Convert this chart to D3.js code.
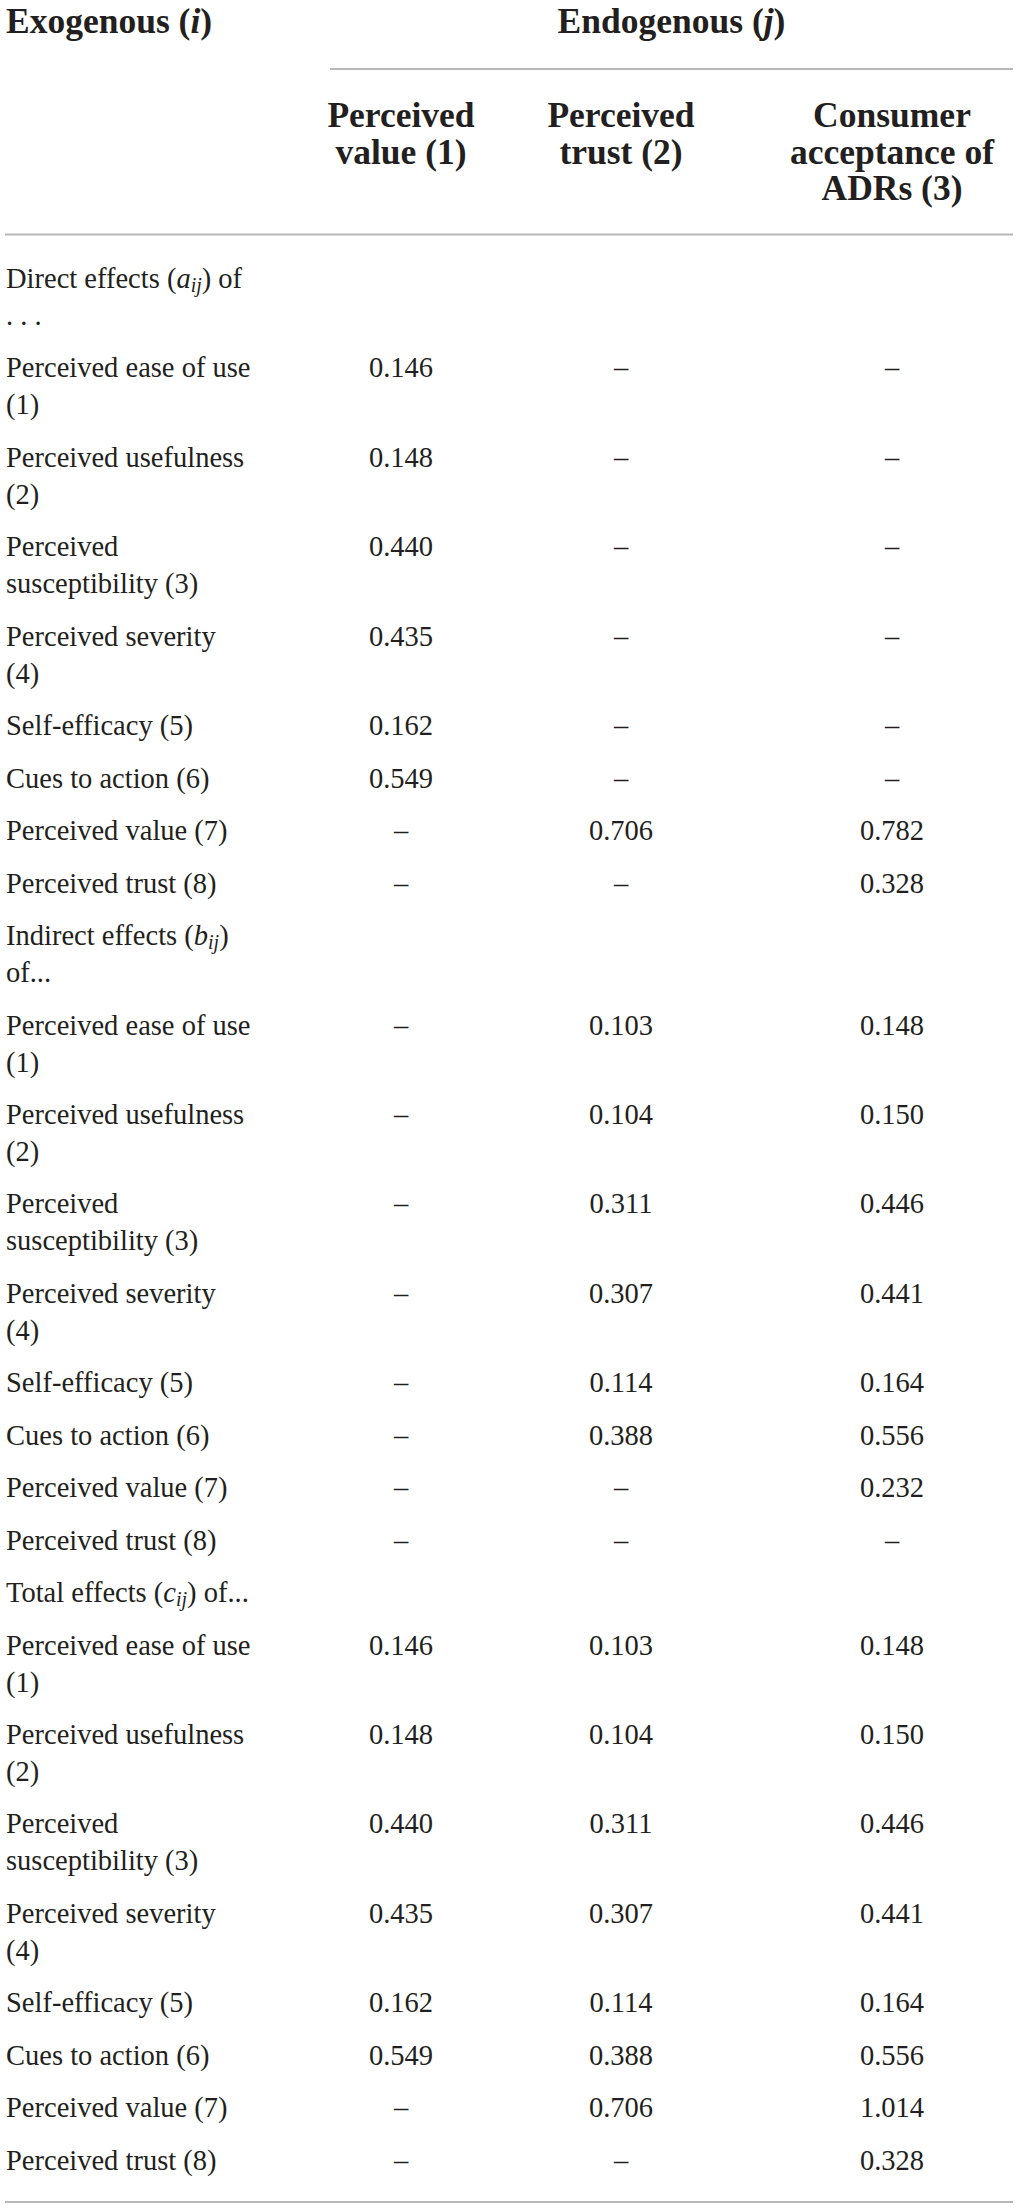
<!DOCTYPE html>
<html>
<head>
<meta charset="utf-8">
<script src="https://cdn.jsdelivr.net/npm/d3@7"></script>
<style>
  html, body { margin: 0; padding: 0; background: #ffffff; }
  svg { display: block; }
  text { font-family: "Liberation Serif", "Times New Roman", serif; fill: #231f20; }
</style>
</head>
<body>
<div id="chart"></div>
<script>
// ---------- DATA ----------
const stubHeader = [{t: "Exogenous ("}, {t: "i", it: true}, {t: ")"}];
const spanHeader = [{t: "Endogenous ("}, {t: "j", it: true}, {t: ")"}];
const columnKeys = ["PV", "PT", "CA"];
const columnHeaders = [
  ["Perceived", "value (1)"],
  ["Perceived", "trust (2)"],
  ["Consumer", "acceptance of", "ADRs (3)"]
];
const rowLabels = [
  ["Perceived ease of use", "(1)"],
  ["Perceived usefulness", "(2)"],
  ["Perceived", "susceptibility (3)"],
  ["Perceived severity", "(4)"],
  ["Self-efficacy (5)"],
  ["Cues to action (6)"],
  ["Perceived value (7)"],
  ["Perceived trust (8)"]
];
const directTitle = [
  [{t: "Direct effects ("}, {t: "a", it: true}, {t: "ij", it: true, sub: true}, {t: ") of"}],
  [{t: ". . ."}]
];
const indirectTitle = [
  [{t: "Indirect effects ("}, {t: "b", it: true}, {t: "ij", it: true, sub: true}, {t: ")"}],
  [{t: "of..."}]
];
const totalTitle = [
  [{t: "Total effects ("}, {t: "c", it: true}, {t: "ij", it: true, sub: true}, {t: ") of..."}]
];
const directPV   = [0.146, 0.148, 0.440, 0.435, 0.162, 0.549, null, null];
const directPT   = [null, null, null, null, null, null, 0.706, null];
const directCA   = [null, null, null, null, null, null, 0.782, 0.328];
const indirectPV = [null, null, null, null, null, null, null, null];
const indirectPT = [0.103, 0.104, 0.311, 0.307, 0.114, 0.388, null, null];
const indirectCA = [0.148, 0.150, 0.446, 0.441, 0.164, 0.556, 0.232, null];
const totalPV    = [0.146, 0.148, 0.440, 0.435, 0.162, 0.549, null, null];
const totalPT    = [0.103, 0.104, 0.311, 0.307, 0.114, 0.388, 0.706, null];
const totalCA    = [0.148, 0.150, 0.446, 0.441, 0.164, 0.556, 1.014, 0.328];

// ---------- BUILD TABLE ROWS ----------
const sections = [
  {title: directTitle,   vals: {PV: directPV, PT: directPT, CA: directCA}},
  {title: indirectTitle, vals: {PV: indirectPV, PT: indirectPT, CA: indirectCA}},
  {title: totalTitle,    vals: {PV: totalPV, PT: totalPT, CA: totalCA}}
];
const rows = [];
sections.forEach(s => {
  rows.push({lines: s.title, cells: null});
  rowLabels.forEach((lab, i) => {
    rows.push({
      lines: lab.map(l => [{t: l}]),
      cells: columnKeys.map(k => s.vals[k][i])
    });
  });
});

// ---------- LAYOUT ----------
const W = 1017, H = 2209;
const bodySize = 28.5, headSize = 35.5;
const lineH = 37, rowPad = 15.45;
const firstBaseline = 288;
const leftX = 6, rightX = 1013, spanLeft = 330;

const x = d3.scaleOrdinal().domain(columnKeys).range([401, 621, 892]);
const fmt = d3.format(".3f");

// cumulative y positions
let cursor = firstBaseline;
rows.forEach(r => {
  r.y = cursor;
  cursor += r.lines.length * lineH + rowPad;
});

const svg = d3.select("#chart").append("svg")
  .attr("width", W).attr("height", H)
  .attr("viewBox", `0 0 ${W} ${H}`);

function addRich(sel, segs, size) {
  segs.forEach(s => {
    const ts = sel.append("tspan").text(s.t);
    if (s.it) ts.attr("font-style", "italic");
    if (s.sub) ts.attr("font-size", size * 0.7).attr("baseline-shift", "-22%");
  });
}

// header
const hdr = svg.append("g").attr("font-weight", "bold").attr("font-size", headSize);
addRich(hdr.append("text").attr("x", leftX).attr("y", 33), stubHeader, headSize);
addRich(hdr.append("text").attr("x", (spanLeft + rightX) / 2).attr("y", 33)
  .attr("text-anchor", "middle"), spanHeader, headSize);

columnHeaders.forEach((lines, ci) => {
  const t = hdr.append("text").attr("text-anchor", "middle");
  lines.forEach((l, li) => {
    t.append("tspan").attr("x", x(columnKeys[ci])).attr("y", 127 + li * 36.5).text(l);
  });
});

// rules
const rule = (x1, x2, y) => svg.append("line")
  .attr("x1", x1).attr("x2", x2).attr("y1", y).attr("y2", y)
  .attr("stroke", "#b8b8b8").attr("stroke-width", 2.2);
rule(spanLeft, rightX, 69);
rule(leftX - 1, rightX, 234.5);
rule(leftX - 1, rightX, 2202);

// body
const body = svg.append("g").attr("font-size", bodySize);
const rowG = body.selectAll("g.row").data(rows).join("g").attr("class", "row");

rowG.each(function(r) {
  const g = d3.select(this);
  r.lines.forEach((segs, li) => {
    addRich(g.append("text").attr("x", leftX).attr("y", r.y + li * lineH), segs, bodySize);
  });
  if (r.cells) {
    g.selectAll("text.val").data(r.cells.map((v, i) => ({v, k: columnKeys[i]})))
      .join("text").attr("class", "val")
      .attr("x", d => x(d.k)).attr("y", r.y)
      .attr("text-anchor", "middle")
      .text(d => d.v == null ? "\u2013" : fmt(d.v));
  }
});
</script>
</body>
</html>
